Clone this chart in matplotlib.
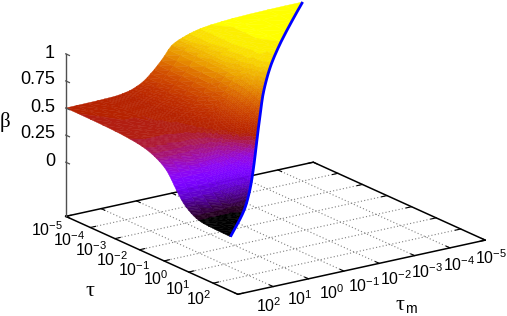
######## IMPORTS ########
import matplotlib
matplotlib.use('Agg')
import matplotlib.pyplot as plt
from mpl_toolkits.mplot3d import proj3d

######## DATA ########
z_ticks = [0, 0.25, 0.5, 0.75, 1]
z_tick_labels = ['0', '0.25', '0.5', '0.75', '1']
decades = [-5, -4, -3, -2, -1, 0, 1, 2]

# log10(tau) samples and beta along the edge tau_m = 10^2
log_tau = [-5, -4.5, -4, -3.5, -3, -2.7, -2.4, -2.2,
           -2.1, -2, -1.9, -1.8, -1.7, -1.6, -1.5, -1.4, -1.3, -1.2, -1.1, -1, -0.9, -0.8,
           -0.7, -0.6, -0.5, -0.4, -0.3, -0.2, -0.1, 0, 0.1, 0.2, 0.3, 0.4, 0.5, 0.6,
           0.8, 1.1, 1.4, 1.7]
edge_tau = [0.5, 0.5, 0.499, 0.497, 0.493, 0.489, 0.482, 0.477,
            0.474, 0.47, 0.465, 0.46, 0.453, 0.445, 0.436, 0.425, 0.413, 0.4, 0.385, 0.367, 0.345, 0.315,
            0.28, 0.242, 0.205, 0.17, 0.137, 0.11, 0.088, 0.07, 0.053, 0.039, 0.028, 0.02, 0.014, 0.01,
            0.006, 0.003, 0.002, 0.0]

# log10(tau_m) samples and the rise of beta along the edge tau = 10^-5
log_tm = [-4.7, -4.2, -3.7, -3.2, -2.7, -2.4, -2.1, -1.9,
          -1.8, -1.7, -1.6, -1.5, -1.4, -1.3, -1.2, -1.1, -1, -0.9, -0.8, -0.7, -0.6, -0.5,
          -0.4, -0.3, -0.2, -0.1, 0, 0.1, 0.2, 0.3, 0.4, 0.5, 0.6, 0.7, 0.8, 0.9,
          1.1, 1.4, 1.7, 2]
edge_tm = [0.5, 0.5, 0.498, 0.495, 0.489, 0.482, 0.474, 0.465,
           0.46, 0.453, 0.445, 0.436, 0.425, 0.413, 0.4, 0.385, 0.365, 0.33, 0.285, 0.245, 0.21, 0.175,
           0.145, 0.115, 0.09, 0.07, 0.055, 0.04, 0.03, 0.023, 0.017, 0.012, 0.009, 0.007, 0.006, 0.005,
           0.003, 0.002, 0.001, 0.0]

######## SURFACE ########
# The sheet only exists for tau_m >= 2 tau, so tm index j starts at tau index i.
# Its height is the sum of the two edge readings.
n = len(log_tau)
xs, ys, zs, index = [], [], [], {}
for i in range(n):
    for j in range(i, n):
        index[(i, j)] = len(xs)
        xs.append(log_tau[i])
        ys.append(log_tm[j])
        zs.append(edge_tau[i] + edge_tm[j])

# split each cell along the level diagonal so the colour bands stay clean
triangles = []
for i in range(n - 1):
    for j in range(i, n - 1):
        triangles.append([index[(i, j + 1)], index[(i + 1, j + 1)], index[(i + 1, j)] if j > i else index[(i, j)]])
        if j > i:
            triangles.append([index[(i, j)], index[(i, j + 1)], index[(i + 1, j)]])

######## PLOT ########
plt.rcParams['font.family'] = ['Liberation Sans', 'DejaVu Sans']
plt.rcParams['mathtext.default'] = 'regular'

W, H = 507, 316
fig = plt.figure(figsize=(W / 100, H / 100), dpi=100)

# square 3D axes, larger than the figure so the box lands on the right pixels
side, left, bottom = 446, 46.5, -60
ax = fig.add_axes([left / W, bottom / H, side / W, side / H], projection='3d', proj_type='ortho',
                  computed_zorder=False)
ax.set_box_aspect((301, 301, 171))
ax.view_init(elev=18.35, azim=-34.8)
ax.set_xlim(-5, 2)
ax.set_ylim(2, -5)
ax.set_zlim(-0.5, 1)
ax.set_axis_off()


def floor_label(x, y, text):
    # place a label on the floor of the box through the axes' own projection
    px, py, _ = proj3d.proj_transform(x, y, -0.5, ax.get_proj())
    ax.annotate(text, (px, py), ha='center', va='center', fontsize=11.5, annotation_clip=False)


# base grid
for d in decades[1:-1]:
    ax.plot([d, d], [2, -5], [-0.5, -0.5], color='#808080', lw=0.8, ls=(0, (1, 2)), zorder=1)
    ax.plot([-5, 2], [d, d], [-0.5, -0.5], color='#808080', lw=0.8, ls=(0, (1, 2)), zorder=1)

# base frame and ticks
ax.plot([-5, 2, 2, -5, -5], [2, 2, -5, -5, 2], [-0.5] * 5, color='black', lw=1.1, zorder=2)
for d in decades:
    ax.plot([d, d], [2, 1.85], [-0.5, -0.5], color='black', lw=0.8, zorder=2)
    ax.plot([d, d], [-5, -4.85], [-0.5, -0.5], color='black', lw=0.8, zorder=2)
    ax.plot([-5, -4.85], [d, d], [-0.5, -0.5], color='black', lw=0.8, zorder=2)
    ax.plot([2, 1.85], [d, d], [-0.5, -0.5], color='black', lw=0.8, zorder=2)

# surface, coloured by height in discrete palette steps
palette = plt.get_cmap('gnuplot', 48)
surf = ax.plot_trisurf(xs, ys, zs, triangles=triangles, cmap=palette, vmin=0, vmax=1, shade=False,
                       linewidth=0.3, zorder=3)
surf.set_edgecolor('face')

# tau_m = 2 tau edge
blue_z = [a + b for a, b in zip(edge_tau, edge_tm)]
ax.plot(log_tau, log_tm, blue_z, color='#0000ff', lw=2.0, zorder=4, solid_capstyle='butt')

# z axis
ax.plot([-5, -5], [2, 2], [-0.5, 1], color='#505050', lw=1.0, zorder=5)
for z in z_ticks:
    ax.plot([-5, -4.85], [2, 2], [z, z], color='#505050', lw=0.9, zorder=5)
for z, label in zip(z_ticks, z_tick_labels):
    fig.text(55 / W, 1 - (161 - 108 * z) / H, label, ha='right', va='center', fontsize=13)

# decade labels
for k, d in enumerate(decades):
    floor_label(-4.42 + 0.881 * k, 2.92, f'$10^{{{d}}}$')
    floor_label(3.12, 1.91 - 0.899 * (7 - k), f'$10^{{{d}}}$')

# axis labels
label_font = ['Liberation Serif', 'DejaVu Serif']
fig.text(5 / W, 1 - 122 / H, 'β', ha='center', va='center', fontsize=15, family=label_font)
fig.text(90 / W, 1 - 292 / H, 'τ', ha='center', va='center', fontsize=16, family=label_font)
fig.text(400 / W, 1 - 305 / H, 'τ', ha='center', va='center', fontsize=16, family=label_font)
fig.text(405 / W, 1 - 309 / H, 'm', ha='left', va='center', fontsize=10)

fig.savefig('out.png', dpi=100)
